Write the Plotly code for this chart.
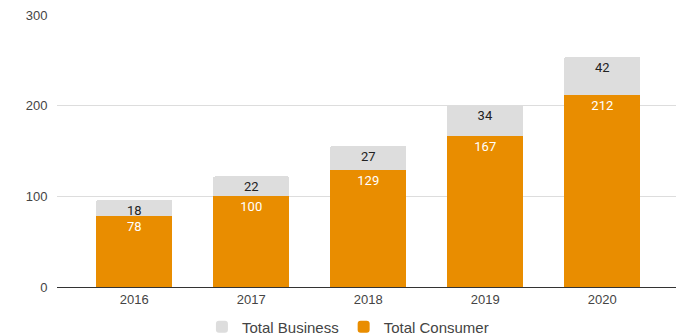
import plotly.graph_objects as go

years = ["2016", "2017", "2018", "2019", "2020"]
consumer = [78, 100, 129, 167, 212]
business = [18, 22, 27, 34, 42]
y_ticks = [0, 100, 200, 300]

ORANGE = "#E98D00"
GREY = "#DDDDDD"

fig = go.Figure()
fig.add_trace(go.Bar(
    x=years, y=consumer, name="Total Consumer",
    marker=dict(color=ORANGE, line=dict(width=0)),
    text=[str(v) for v in consumer], textposition="inside",
    insidetextanchor="end", textangle=0, constraintext="none",
    textfont=dict(family="Roboto", size=13, color="#FFFFFF"),
))
fig.add_trace(go.Bar(
    x=years, y=business, name="Total Business",
    marker=dict(color=GREY, line=dict(width=0)),
    text=[str(v) for v in business], textposition="inside",
    insidetextanchor="end", textangle=0, constraintext="none",
    textfont=dict(family="Roboto", size=13, color="#222222"),
))

fig.update_layout(
    width=676, height=335,
    margin=dict(l=57, r=0, t=15, b=48, autoexpand=False),
    paper_bgcolor="white", plot_bgcolor="white",
    barmode="stack", bargap=0.35, barcornerradius=2,
    font=dict(family="Liberation Sans, Arial", size=13, color="#444444"),
    showlegend=True,
    legend=dict(orientation="h", x=0.47, xanchor="center",
                yref="container", y=0.024, yanchor="middle",
                traceorder="reversed", font=dict(size=15, color="#444444"),
                itemwidth=30),
    xaxis=dict(type="category", range=[-0.66, 4.63], showgrid=False,
               showline=True, linecolor="#333333", linewidth=1, ticks="",
               tickfont=dict(size=13, color="#444444")),
    yaxis=dict(range=[0, 300], tickvals=y_ticks, showgrid=True, gridcolor="#DDDDDD",
               gridwidth=1, zeroline=False, showline=False,
               ticks="outside", ticklen=6, tickcolor="rgba(0,0,0,0)",
               tickfont=dict(size=13, color="#444444")),
)

fig.write_html("out.html")
